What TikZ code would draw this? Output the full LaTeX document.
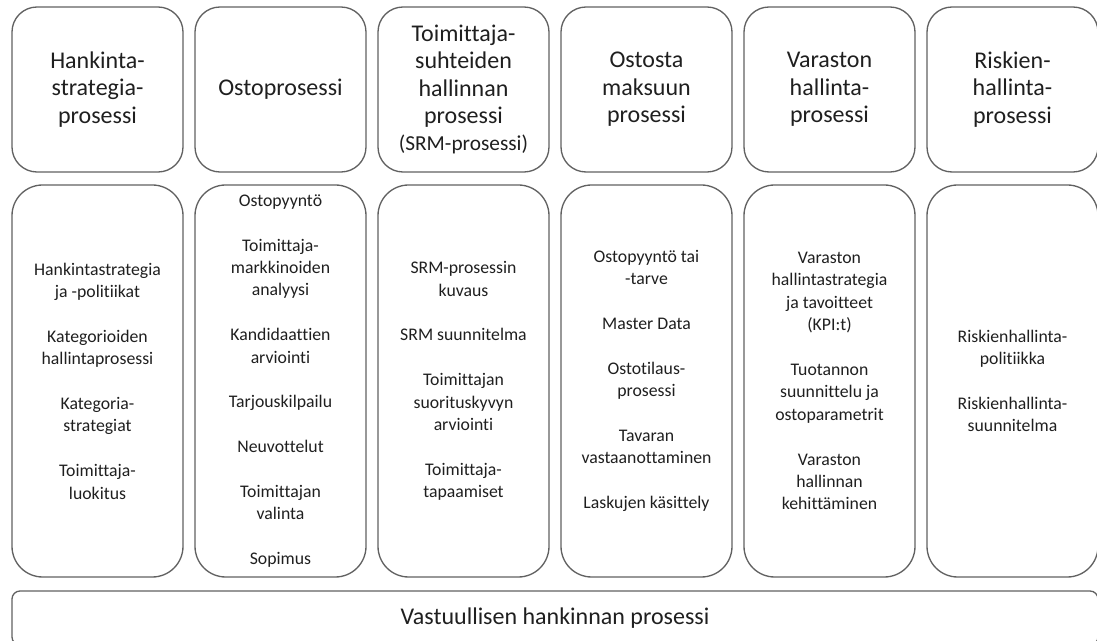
\documentclass[tikz,border=0pt]{standalone}
\usepackage{fontspec}
\setmainfont{Carlito}[Ligatures=NoCommon]
\usetikzlibrary{positioning}

\begin{document}
\begin{tikzpicture}[x=0.75pt,y=-0.75pt,
  box/.style={draw=black!62, line width=1pt, text=black!88, align=center, inner sep=0pt},
  headbox/.style={box, rounded corners=18.75pt, minimum width=128.25pt, minimum height=123.75pt, font=\fontsize{18}{20.6}\selectfont},
  listbox/.style={box, rounded corners=23pt, minimum width=128.25pt, minimum height=294pt, font=\fontsize{13.3}{16.8}\selectfont},
  basebox/.style={box, rounded corners=6pt, minimum width=814.5pt, minimum height=40.5pt, font=\fontsize{18}{21}\selectfont}]
\useasboundingbox (0,0) rectangle (1097,641);
\clip (0,0) rectangle (1097,641);
\node[headbox] (hankinta) at (97.5,89.5) {Hankinta-\\strategia-\\prosessi};
\node[headbox] (osto) at (280.5,89.5) {Ostoprosessi};
\node[headbox] (srm) at (463.5,89.5) {Toimittaja-\\suhteiden\\hallinnan\\prosessi\\{\fontsize{16}{19}\selectfont (SRM-prosessi)}};
\node[headbox] (maksu) at (646.5,89.5) {Ostosta\\maksuun\\prosessi};
\node[headbox] (varasto) at (829.5,89.5) {Varaston\\hallinta-\\prosessi};
\node[headbox] (riski) at (1012.5,89.5) {Riskien-\\hallinta-\\prosessi};
\node[listbox] (hankintaL) at (97.5,381) {Hankintastrategia\\ja -politiikat\\[16.8pt]Kategorioiden\\hallintaprosessi\\[16.8pt]Kategoria-\\strategiat\\[16.8pt]Toimittaja-\\luokitus};
\node[listbox] (ostoL) at (280.5,381) {Ostopyyntö\\[16.8pt]Toimittaja-\\markkinoiden\\analyysi\\[16.8pt]Kandidaattien\\arviointi\\[16.8pt]Tarjouskilpailu\\[16.8pt]Neuvottelut\\[16.8pt]Toimittajan\\valinta\\[16.8pt]Sopimus};
\node[listbox] (srmL) at (463.5,381) {SRM-prosessin\\kuvaus\\[16.8pt]SRM suunnitelma\\[16.8pt]Toimittajan\\suorituskyvyn\\arviointi\\[16.8pt]Toimittaja-\\tapaamiset};
\node[listbox] (maksuL) at (646.5,381) {Ostopyyntö tai\\-tarve\\[16.8pt]Master Data\\[16.8pt]Ostotilaus-\\prosessi\\[16.8pt]Tavaran\\vastaanottaminen\\[16.8pt]Laskujen käsittely};
\node[listbox] (varastoL) at (829.5,381) {Varaston\\hallintastrategia\\ja tavoitteet\\(KPI:t)\\[16.8pt]Tuotannon\\suunnittelu ja\\ostoparametrit\\[16.8pt]Varaston\\hallinnan\\kehittäminen};
\node[listbox] (riskiL) at (1012.5,381) {Riskienhallinta-\\politiikka\\[16.8pt]Riskienhallinta-\\suunnitelma};
\node[basebox] (vastuu) at (555,618) {Vastuullisen hankinnan prosessi};
\end{tikzpicture}
\end{document}
